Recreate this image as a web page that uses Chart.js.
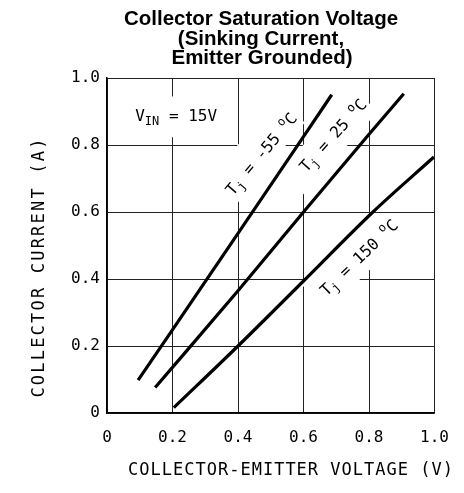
<!DOCTYPE html>
<html>
<head>
<meta charset="utf-8">
<script src="https://cdn.jsdelivr.net/npm/chart.js@4.4.1/dist/chart.umd.min.js"></script>
<style>
  html, body { margin: 0; padding: 0; background: #fff; }
  canvas { display: block; }
</style>
</head>
<body>
<canvas id="chart" width="464" height="493"></canvas>
<script>
// Axis ticks
const xTicks = [0, 0.2, 0.4, 0.6, 0.8, 1.0];
const yTicks = [0, 0.2, 0.4, 0.6, 0.8, 1.0];

// Collector-emitter voltage (V) / collector current (A) per junction temp
const tjMinus55V = [0.095, 0.4, 0.686];
const tjMinus55I = [0.098, 0.536, 0.950];

const tj25V = [0.147, 0.4, 0.6, 0.8, 0.906];
const tj25I = [0.076, 0.365, 0.6, 0.832, 0.953];

const tj150V = [0.204, 0.4, 0.6, 0.812, 0.998];
const tj150I = [0.016, 0.2, 0.394, 0.6, 0.764];

const MONO = '"DejaVu Sans Mono", monospace';

function toPoints(xs, ys) {
  return xs.map((v, i) => ({ x: v, y: ys[i] }));
}

// in-plot labels: position (data units), rotation, white backdrop [alongMin, alongMax, perpMin, perpMax]
const notes = [
  { x: 0.474, y: 0.771, angle: 50, bg: [-60, 52, -25, 12],
    runs: [{ t: 'T' }, { t: 'j', sub: true }, { t: ' = -55 ' }, { t: 'o', sup: true }, { t: 'C' }] },
  { x: 0.693, y: 0.826, angle: 48, bg: [-64, 48, -17, 16],
    runs: [{ t: 'T' }, { t: 'j', sub: true }, { t: ' = 25 ' }, { t: 'o', sup: true }, { t: 'C' }] },
  { x: 0.772, y: 0.461, angle: 44, bg: [-60, 38, -24, 15],
    runs: [{ t: 'T' }, { t: 'j', sub: true }, { t: ' = 150 ' }, { t: 'o', sup: true }, { t: 'C' }] }
];

function runFont(r) {
  return (r.sub || r.sup ? '12px ' : '16px ') + MONO;
}

function drawRuns(ctx, runs) {
  let total = 0;
  runs.forEach(r => { ctx.font = runFont(r); total += ctx.measureText(r.t).width; });
  let cx = -total / 2;
  ctx.fillStyle = '#000';
  ctx.textBaseline = 'middle';
  ctx.textAlign = 'left';
  runs.forEach(r => {
    ctx.font = runFont(r);
    const dy = r.sub ? 5 : (r.sup ? -6 : 0);
    ctx.fillText(r.t, cx, dy);
    cx += ctx.measureText(r.t).width;
  });
}

const notesPlugin = {
  id: 'notes',
  beforeDatasetsDraw(chart) {
    const { ctx, scales: { x, y } } = chart;
    ctx.save();

    // V_IN box text
    const bx = x.getPixelForValue(0.068), bx2 = x.getPixelForValue(0.359);
    const by = y.getPixelForValue(0.945), by2 = y.getPixelForValue(0.823);
    ctx.fillStyle = '#fff';
    ctx.fillRect(bx, by, bx2 - bx, by2 - by);
    ctx.save();
    ctx.translate(x.getPixelForValue(0.211), y.getPixelForValue(0.884));
    drawRuns(ctx, [{ t: 'V' }, { t: 'IN', sub: true }, { t: ' = 15V' }]);
    ctx.restore();

    notes.forEach(n => {
      ctx.save();
      ctx.translate(x.getPixelForValue(n.x), y.getPixelForValue(n.y));
      ctx.rotate(-n.angle * Math.PI / 180);
      ctx.fillStyle = '#fff';
      ctx.fillRect(n.bg[0], n.bg[2], n.bg[1] - n.bg[0], n.bg[3] - n.bg[2]);
      drawRuns(ctx, n.runs);
      ctx.restore();
    });
    ctx.restore();
  },
  afterDraw(chart) {
    const { ctx } = chart;
    ctx.save();
    ctx.fillStyle = '#000';
    ctx.textAlign = 'center';
    ctx.textBaseline = 'alphabetic';
    ctx.font = 'bold 20.5px "Liberation Sans", Arial, sans-serif';
    ctx.fillText('Collector Saturation Voltage', 261, 25);
    ctx.fillText('(Sinking Current,', 261, 44.5);
    ctx.fillText('Emitter Grounded)', 262, 64);

    ctx.font = '17px ' + MONO;
    ctx.textBaseline = 'middle';
    ctx.letterSpacing = '1px';
    ctx.fillText('COLLECTOR-EMITTER VOLTAGE (V)', 291, 471);

    ctx.letterSpacing = '2.2px';
    ctx.translate(40, 267);
    ctx.rotate(-Math.PI / 2);
    ctx.fillText('COLLECTOR CURRENT (A)', 0, 0);
    ctx.restore();
  }
};

function lineSet(xs, ys) {
  return {
    data: toPoints(xs, ys),
    showLine: true,
    borderColor: '#000',
    borderWidth: 3.2,
    borderCapStyle: 'butt',
    pointRadius: 0,
    cubicInterpolationMode: 'monotone',
    fill: false
  };
}

const tickLabel = v => (v === 0 ? '0' : v.toFixed(1));

new Chart(document.getElementById('chart'), {
  type: 'scatter',
  data: {
    datasets: [
      lineSet(tjMinus55V, tjMinus55I),
      lineSet(tj25V, tj25I),
      lineSet(tj150V, tj150I)
    ]
  },
  options: {
    responsive: false,
    animation: false,
    devicePixelRatio: 1,
    layout: { padding: { top: 78, right: 21, left: 0, bottom: 0 } },
    plugins: { legend: { display: false }, tooltip: { enabled: false } },
    scales: {
      x: {
        type: 'linear',
        min: 0,
        max: 1,
        afterBuildTicks: s => { s.ticks = xTicks.map(v => ({ value: v })); },
        afterFit: s => { s.height = 80; },
        ticks: { callback: tickLabel, color: '#000', font: { family: MONO, size: 16 }, padding: 15, maxRotation: 0 },
        grid: { color: '#222', lineWidth: 1, drawTicks: false },
        border: { color: '#000', width: 1.5 }
      },
      y: {
        type: 'linear',
        min: 0,
        max: 1,
        afterBuildTicks: s => { s.ticks = yTicks.map(v => ({ value: v })); },
        afterFit: s => { s.width = 107; },
        ticks: { callback: tickLabel, color: '#000', font: { family: MONO, size: 16 }, padding: 7 },
        grid: { color: '#222', lineWidth: 1, drawTicks: false },
        border: { color: '#000', width: 1.5 }
      }
    }
  },
  plugins: [notesPlugin]
});
</script>
</body>
</html>
